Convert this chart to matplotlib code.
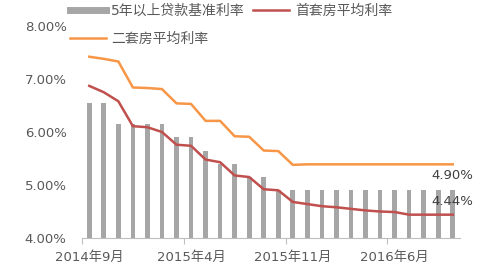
import matplotlib
matplotlib.use("Agg")
import matplotlib.pyplot as plt
from matplotlib.lines import Line2D
import numpy as np

plt.rcParams['font.family'] = ['DejaVu Sans', 'Noto Sans CJK SC']

months = ["2014-09", "2014-10", "2014-11", "2014-12", "2015-01", "2015-02", "2015-03",
          "2015-04", "2015-05", "2015-06", "2015-07", "2015-08", "2015-09", "2015-10",
          "2015-11", "2015-12", "2016-01", "2016-02", "2016-03", "2016-04", "2016-05",
          "2016-06", "2016-07", "2016-08", "2016-09", "2016-10"]
tick_labels = ["2014年9月", "2015年4月", "2015年11月", "2016年6月"]
tick_idx = [0, 7, 14, 21]

benchmark = [6.55, 6.55, 6.15, 6.15, 6.15, 6.15, 5.90, 5.90, 5.65, 5.40, 5.40, 5.15, 5.15,
             4.90, 4.90, 4.90, 4.90, 4.90, 4.90, 4.90, 4.90, 4.90, 4.90, 4.90, 4.90, 4.90]
first_home = [6.87, 6.75, 6.58, 6.11, 6.09, 6.00, 5.76, 5.74, 5.48, 5.43, 5.18, 5.15, 4.92,
              4.90, 4.68, 4.64, 4.60, 4.58, 4.55, 4.52, 4.50, 4.49, 4.44, 4.44, 4.44, 4.44]
second_home = [7.42, 7.38, 7.33, 6.84, 6.83, 6.81, 6.54, 6.53, 6.21, 6.21, 5.92, 5.91, 5.65,
               5.64, 5.38, 5.39, 5.39, 5.39, 5.39, 5.39, 5.39, 5.39, 5.39, 5.39, 5.39, 5.39]

names = ["5年以上贷款基准利率", "首套房平均利率", "二套房平均利率"]
c_bar = "#A6A6A6"
c_red = "#C0504D"
c_org = "#F79646"
c_txt = "#595959"

fig = plt.figure(figsize=(4.92, 2.67), dpi=100)
ax = fig.add_axes([82/492, 1-238/267, (460-82)/492, (238-26)/267])

x = np.arange(len(months))
ax.bar(x, np.array(benchmark) - 4.0, bottom=4.0, width=0.32, color=c_bar, zorder=1)
ax.plot(x, first_home, color=c_red, lw=1.8, zorder=3)
ax.plot(x, second_home, color=c_org, lw=1.8, zorder=3)

ax.set_xlim(-0.5, len(months) - 0.5)
ax.set_ylim(4.0, 8.0)
ax.set_yticks([4, 5, 6, 7, 8])
ax.set_yticklabels([f"{v:.2f}%" for v in [4, 5, 6, 7, 8]], fontsize=9.5, color=c_txt)
ax.tick_params(axis='y', length=0, pad=11)

ax.set_xticks(tick_idx)
ax.set_xticklabels(tick_labels, fontsize=9.5, color=c_txt)
ax.tick_params(axis='x', which='major', length=0, pad=9)
ax.set_xticks([i - 0.5 for i in tick_idx], minor=True)
ax.tick_params(axis='x', which='minor', length=4, color="#BFBFBF", width=0.8)

for s in ['top', 'right', 'left']:
    ax.spines[s].set_visible(False)
ax.spines['bottom'].set_color("#BFBFBF")
ax.spines['bottom'].set_linewidth(0.8)

last = len(months) - 1
ax.annotate(f"{benchmark[-1]:.2f}%", (x[last], benchmark[-1]), xytext=(0, 6),
            textcoords='offset points', ha='center', va='bottom', fontsize=9.5, color="#404040")
ax.annotate(f"{first_home[-1]:.2f}%", (x[last], first_home[-1]), xytext=(0, 5),
            textcoords='offset points', ha='center', va='bottom', fontsize=9.5, color="#404040")

handles = [Line2D([], [], color=c_bar, lw=5),
           Line2D([], [], color=c_org, lw=1.8),
           Line2D([], [], color=c_red, lw=1.8)]
labels = [names[0], names[2], names[1]]
leg = fig.legend(handles, labels, ncol=2, loc='upper left', bbox_to_anchor=(64/492, 1.0 + 2/267),
                 frameon=False, fontsize=10, handlelength=2.6, handletextpad=0.4,
                 columnspacing=0.6, labelspacing=1.0, borderaxespad=0)
for t in leg.get_texts():
    t.set_color(c_txt)

fig.savefig("out.png", dpi=100)
